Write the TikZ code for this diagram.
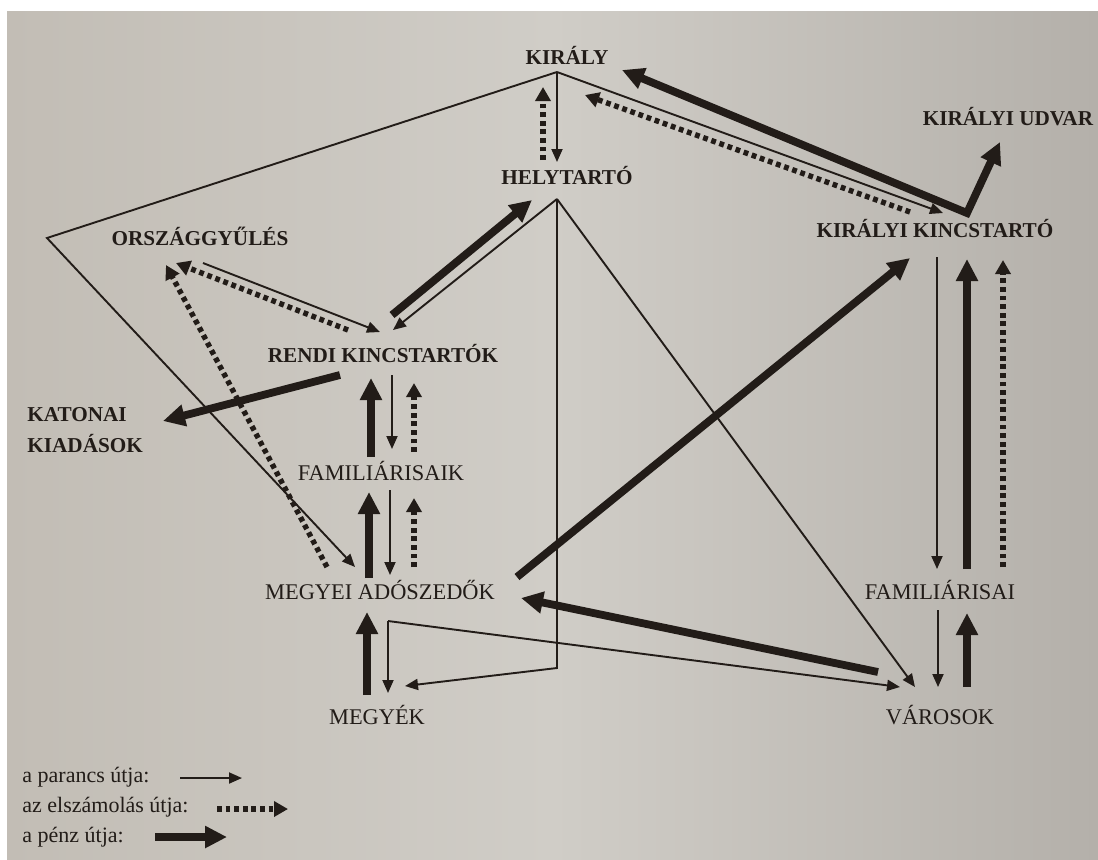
\documentclass[tikz,border=0pt]{standalone}
\usepackage{fontspec}
\setmainfont{Liberation Serif}
\usetikzlibrary{arrows.meta}
\definecolor{paperL}{RGB}{194,189,181}
\definecolor{paperM}{RGB}{208,205,199}
\definecolor{paperR}{RGB}{180,176,170}
\definecolor{ink}{RGB}{34,28,24}
\tikzset{
  ctip/.tip={Triangle[length=6.5pt,width=5.5pt]},
  atip/.tip={Triangle[length=7pt,width=7.5pt]},
  mtip/.tip={Triangle[length=11pt,width=10.5pt]},
  lbl/.style={anchor=base, inner sep=0pt, text=ink, font=\fontsize{11.2}{13}\selectfont},
  blbl/.style={lbl, font=\fontsize{10.6}{12}\selectfont\bfseries},
  leg/.style={anchor=base west, inner sep=0pt, text=ink, font=\fontsize{11}{13}\selectfont},
  cmd/.style={draw=ink, line width=0.95pt, -ctip},
  acc/.style={draw=ink, line width=2.7pt, dash pattern=on 2.4pt off 1.9pt, -atip},
  money/.style={draw=ink, line width=3.9pt, line join=miter, -mtip},
}
\begin{document}
\begin{tikzpicture}[x=0.5pt, y=-0.5pt]
\useasboundingbox (0,0) rectangle (1098,859);
\fill[white] (0,0) rectangle (1098,859);
\shade[left color=paperL, right color=paperR, middle color=paperM] (7,11) rectangle (1098,859);

% labels
\node[blbl] (kiraly) at (567,64) {KIRÁLY};
\node[blbl] (helyt) at (567,184) {HELYTARTÓ};
\node[blbl] (udvar) at (1008,125) {KIRÁLYI UDVAR};
\node[blbl] (kkincs) at (935,237) {KIRÁLYI KINCSTARTÓ};
\node[blbl] (orszgy) at (200,245) {ORSZÁGGYŰLÉS};
\node[blbl] (rendi) at (383,362) {RENDI KINCSTARTÓK};
\node[blbl, anchor=base west] (katonai) at (27,421) {KATONAI};
\node[blbl, anchor=base west] (kiadasok) at (27,452) {KIADÁSOK};
\node[lbl] (famik) at (381,480) {FAMILIÁRISAIK};
\node[lbl] (megyei) at (380,599) {MEGYEI ADÓSZEDŐK};
\node[lbl] (megyek) at (377,724) {MEGYÉK};
\node[lbl] (famai) at (940,599) {FAMILIÁRISAI};
\node[lbl] (varosok) at (940,724) {VÁROSOK};

% legend
\node[leg] (lg1) at (22,782) {a parancs útja:};
\node[leg] (lg2) at (22,812) {az elszámolás útja:};
\node[leg] (lg3) at (22,842) {a pénz útja:};
\coordinate (lg1a) at (180,778); \coordinate (lg1b) at (242,778);
\coordinate (lg2a) at (217,809); \coordinate (lg2b) at (288,809);
\coordinate (lg3a) at (155,837); \coordinate (lg3b) at (227,837);
\draw[cmd] (lg1a) -- (lg1b);
\draw[acc] (lg2a) -- (lg2b);
\draw[money] (lg3a) -- (lg3b);

% hub points and ends
\coordinate (K0) at (557,72);
\coordinate (L0) at (47,238);
\coordinate (H0) at (557,199);
\coordinate (Hb) at (557,668);
\coordinate (M0) at (388,621);
\coordinate (J0) at (967,213);

% command (thin)
\draw[cmd] (K0) -- (L0) -- (355,567);
\draw[cmd] (K0) -- (943,213);
\draw[cmd] (K0) -- (557,162);
\draw[cmd] (H0) -- (393,330);
\draw[cmd] (H0) -- (Hb) -- (405,686);
\draw[cmd] (H0) -- (915,687);
\draw[cmd] (203,263) -- (380,332);
\draw[cmd] (392,375) -- (392,449);
\draw[cmd] (390,490) -- (390,575);
\draw[cmd] (M0) -- (388,693);
\draw[cmd] (M0) -- (900,687);
\draw[cmd] (937,257) -- (937,569);
\draw[cmd] (938,610) -- (938,687);

% accounting (dotted)
\draw[acc] (543,160) -- (543,87);
\draw[acc] (910,212) -- (585,95);
\draw[acc] (348,330) -- (176,263);
\draw[acc] (327,567) -- (166,265);
\draw[acc] (414,452) -- (414,383);
\draw[acc] (414,567) -- (414,498);
\draw[acc] (1003,567) -- (1003,260);

% money (thick)
\draw[money] (392,315) -- (532,200);
\draw[money] (340,375) -- (163,421);
\draw[money] (371,457) -- (371,378);
\draw[money] (369,578) -- (369,492);
\draw[money] (367,695) -- (367,612);
\draw[money] (517,577) -- (910,258);
\draw[money] (878,672) -- (521,598);
\draw[money] (967,687) -- (967,613);
\draw[money] (967,569) -- (967,259);
\draw[money, mtip-mtip] (622,70) -- (J0) -- (1000,142);
\end{tikzpicture}
\end{document}
